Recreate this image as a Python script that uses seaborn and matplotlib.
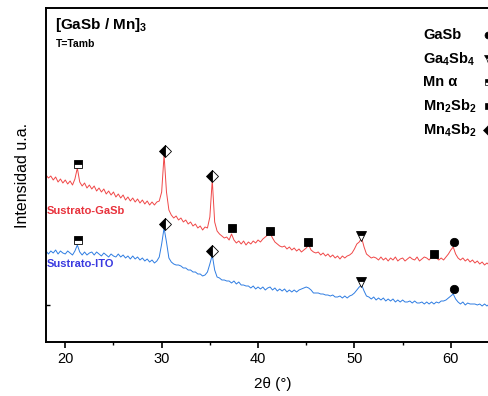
import numpy as np
import pandas as pd
import matplotlib
matplotlib.use("Agg")
import matplotlib.pyplot as plt
from matplotlib.lines import Line2D
from matplotlib.ticker import MultipleLocator, FixedLocator, NullFormatter
import seaborn as sns

# XRD scans (2theta from 18 deg, step 0.25 deg), intensity in arbitrary units
gasb_substrate = [
    167, 164, 166, 162, 165, 160, 163, 159, 162, 158, 161, 157, 163, 174, 160, 156,
    159, 154, 157, 153, 156, 151, 154, 150, 153, 148, 151, 147, 150, 145, 148, 144,
    147, 142, 145, 141, 144, 140, 143, 139, 142, 138, 141, 137, 140, 137, 140, 141,
    150, 187, 150, 132, 127, 124, 126, 122, 124, 120, 122, 118, 120, 116, 118, 114,
    116, 112, 115, 114, 125, 162, 120, 111, 108, 106, 104, 105, 102, 108, 102, 99,
    101, 98, 101, 97, 100, 98, 101, 99, 102, 100, 103, 105, 107, 109, 104, 100,
    98, 96, 95, 96, 93, 95, 92, 94, 91, 93, 90, 92, 94, 97, 92, 90,
    89, 90, 87, 89, 86, 88, 85, 87, 84, 86, 83, 86, 84, 86, 87, 89,
    93, 98, 100, 104, 95, 88, 86, 84, 85, 84, 82, 85, 82, 84, 81, 84,
    82, 85, 81, 83, 84, 81, 83, 85, 83, 82, 85, 81, 83, 85, 84, 82,
    85, 87, 84, 82, 84, 82, 85, 88, 92, 95, 88, 84, 82, 84, 81, 83,
    80, 82, 79, 81, 78, 80, 77, 79, 77, 79, 76, 78, 77,
]
ito_substrate = [
    91, 88, 91, 89, 92, 88, 91, 89, 88, 91, 89, 87, 91, 97, 90, 87,
    90, 87, 89, 90, 87, 90, 88, 86, 89, 87, 85, 88, 86, 85, 88, 85,
    87, 84, 86, 83, 86, 83, 85, 82, 84, 81, 83, 80, 82, 79, 81, 85,
    98, 114, 100, 84, 80, 78, 77, 77, 76, 74, 74, 72, 72, 70, 70, 68,
    68, 66, 67, 70, 78, 87, 72, 65, 64, 62, 62, 61, 61, 59, 61, 58,
    60, 57, 57, 56, 56, 54, 56, 53, 55, 53, 55, 52, 54, 55, 52, 54,
    51, 53, 51, 53, 50, 52, 50, 52, 50, 52, 53, 54, 55, 54, 52, 49,
    49, 49, 48, 48, 47, 47, 46, 47, 45, 45, 46, 44, 46, 44, 46, 47,
    49, 52, 55, 57, 51, 46, 45, 43, 45, 42, 44, 42, 44, 41, 43, 41,
    43, 40, 42, 40, 42, 40, 40, 41, 39, 41, 39, 39, 40, 38, 40, 38,
    40, 38, 40, 39, 41, 41, 42, 44, 46, 48, 43, 40, 38, 40, 37, 39,
    38, 38, 38, 37, 38, 36, 38, 36, 38, 36, 38, 36, 37,
]

# Phase identification: peak positions (deg) and marker heights per scan
gasb_pos = [60.3]
gasb_gasb_h = [100]
gasb_ito_h = [53]
ga4sb4_pos = [50.7]
ga4sb4_gasb_h = [106]
ga4sb4_ito_h = [60]
mn_alpha_pos = [21.3]
mn_alpha_gasb_h = [178]
mn_alpha_ito_h = [102]
mn2sb2_pos = [37.3, 41.2, 45.2, 58.3]
mn2sb2_gasb_h = [114, 111, 100, 88]
mn4sb2_pos = [30.3, 35.2]
mn4sb2_gasb_h = [191, 166]
mn4sb2_ito_h = [118, 91]

legend_labels = [
    "GaSb",
    r"Ga$_\mathbf{4}$Sb$_\mathbf{4}$",
    "Mn α",
    r"Mn$_\mathbf{2}$Sb$_\mathbf{2}$",
    r"Mn$_\mathbf{4}$Sb$_\mathbf{2}$",
]

sns.set_theme(style="ticks")
plt.rcParams["font.family"] = ["Liberation Sans", "DejaVu Sans"]
plt.rcParams["mathtext.fontset"] = "custom"
plt.rcParams["mathtext.rm"] = "Liberation Sans"
plt.rcParams["mathtext.bf"] = "Liberation Sans:bold"
plt.rcParams["mathtext.it"] = "Liberation Sans:italic"
for key in ["text.color", "axes.labelcolor", "xtick.color", "ytick.color",
            "axes.edgecolor"]:
    plt.rcParams[key] = "black"
plt.rcParams["ytick.direction"] = "in"

RED = "#f04848"
BLUE = "#2f7de2"

two_theta = 18.0 + 0.25 * np.arange(len(gasb_substrate))
df = pd.DataFrame({
    "two_theta": np.concatenate([two_theta, two_theta]),
    "intensity": np.concatenate([gasb_substrate, ito_substrate]),
    "substrate": ["GaSb"] * len(gasb_substrate) + ["ITO"] * len(ito_substrate),
})

fig = plt.figure(figsize=(4.89, 3.96), dpi=100)
ax = fig.add_axes([46 / 489, 54 / 396, 453 / 489, 334 / 396])

sns.lineplot(data=df, x="two_theta", y="intensity", hue="substrate",
             palette={"GaSb": RED, "ITO": BLUE}, linewidth=0.7,
             legend=False, ax=ax, estimator=None, sort=False)

mk = dict(color="black", markeredgecolor="black", markeredgewidth=0.6,
          linestyle="none", markerfacecoloralt="white", zorder=5)
ax.plot(gasb_pos, gasb_gasb_h, marker="o", markersize=6, **mk)
ax.plot(gasb_pos, gasb_ito_h, marker="o", markersize=6, **mk)
ax.plot(ga4sb4_pos, ga4sb4_gasb_h, marker="v", markersize=6.5, fillstyle="top", **mk)
ax.plot(ga4sb4_pos, ga4sb4_ito_h, marker="v", markersize=6.5, fillstyle="top", **mk)
ax.plot(mn_alpha_pos, mn_alpha_gasb_h, marker="s", markersize=5.5, fillstyle="top", **mk)
ax.plot(mn_alpha_pos, mn_alpha_ito_h, marker="s", markersize=5.5, fillstyle="top", **mk)
ax.plot(mn2sb2_pos, mn2sb2_gasb_h, marker="s", markersize=5.5, **mk)
ax.plot(mn4sb2_pos, mn4sb2_gasb_h, marker="D", markersize=6, fillstyle="left", **mk)
ax.plot(mn4sb2_pos, mn4sb2_ito_h, marker="D", markersize=6, fillstyle="left", **mk)

ax.set_xlim(18, 65)
ax.set_ylim(0, 334)
ax.xaxis.set_major_locator(MultipleLocator(10))
ax.xaxis.set_minor_locator(MultipleLocator(5))
ax.yaxis.set_major_locator(FixedLocator([37]))
ax.yaxis.set_major_formatter(NullFormatter())
ax.tick_params(axis="x", which="major", direction="out", length=4, width=1.2,
               labelsize=10.5, pad=3, colors="black")
ax.tick_params(axis="x", which="minor", direction="out", length=2.5, width=1.0,
               colors="black")
ax.tick_params(axis="y", which="major", direction="in", length=3, width=1.0,
               colors="black", left=True)
for s in ax.spines.values():
    s.set_linewidth(1.4)
    s.set_color("black")
    s.set_visible(True)

ax.set_xlabel("2θ (°)", fontsize=11, labelpad=8)
ax.set_ylabel("Intensidad u.a.", fontsize=11.5, labelpad=8)

fig.text(55 / 489, 1 - 25 / 396, r"[GaSb / Mn]$_\mathbf{3}$", fontsize=11,
         fontweight="bold", va="center", ha="left")
fig.text(56 / 489, 1 - 44 / 396, "T=Tamb", fontsize=7.5, fontweight="bold",
         va="center", ha="left")
fig.text(47 / 489, 1 - 211 / 396, "Sustrato-GaSb", fontsize=8, fontweight="bold",
         color="#e8323c", va="center", ha="left")
fig.text(47 / 489, 1 - 264 / 396, "Sustrato-ITO", fontsize=8, fontweight="bold",
         color="#3a3ae0", va="center", ha="left")

# Phase key: label on the left, symbol to its right
key_styles = [
    dict(marker="o", markersize=5),
    dict(marker="v", markersize=5.5, fillstyle="top"),
    dict(marker="s", markersize=4, fillstyle="top"),
    dict(marker="s", markersize=4.5),
    dict(marker="D", markersize=5, fillstyle="left"),
]
key_rows = [35, 59, 82, 106, 130]
for label, style, row in zip(legend_labels, key_styles, key_rows):
    yf = 1 - row / 396
    fig.text(423 / 489, yf, label, fontsize=10.5, fontweight="bold",
             va="center", ha="left")
    fig.add_artist(Line2D([488 / 489], [yf], transform=fig.transFigure,
                          color="black", linestyle="none",
                          markerfacecoloralt="white", markeredgecolor="black",
                          markeredgewidth=0.5, **style))

fig.savefig("out.png", dpi=100)
